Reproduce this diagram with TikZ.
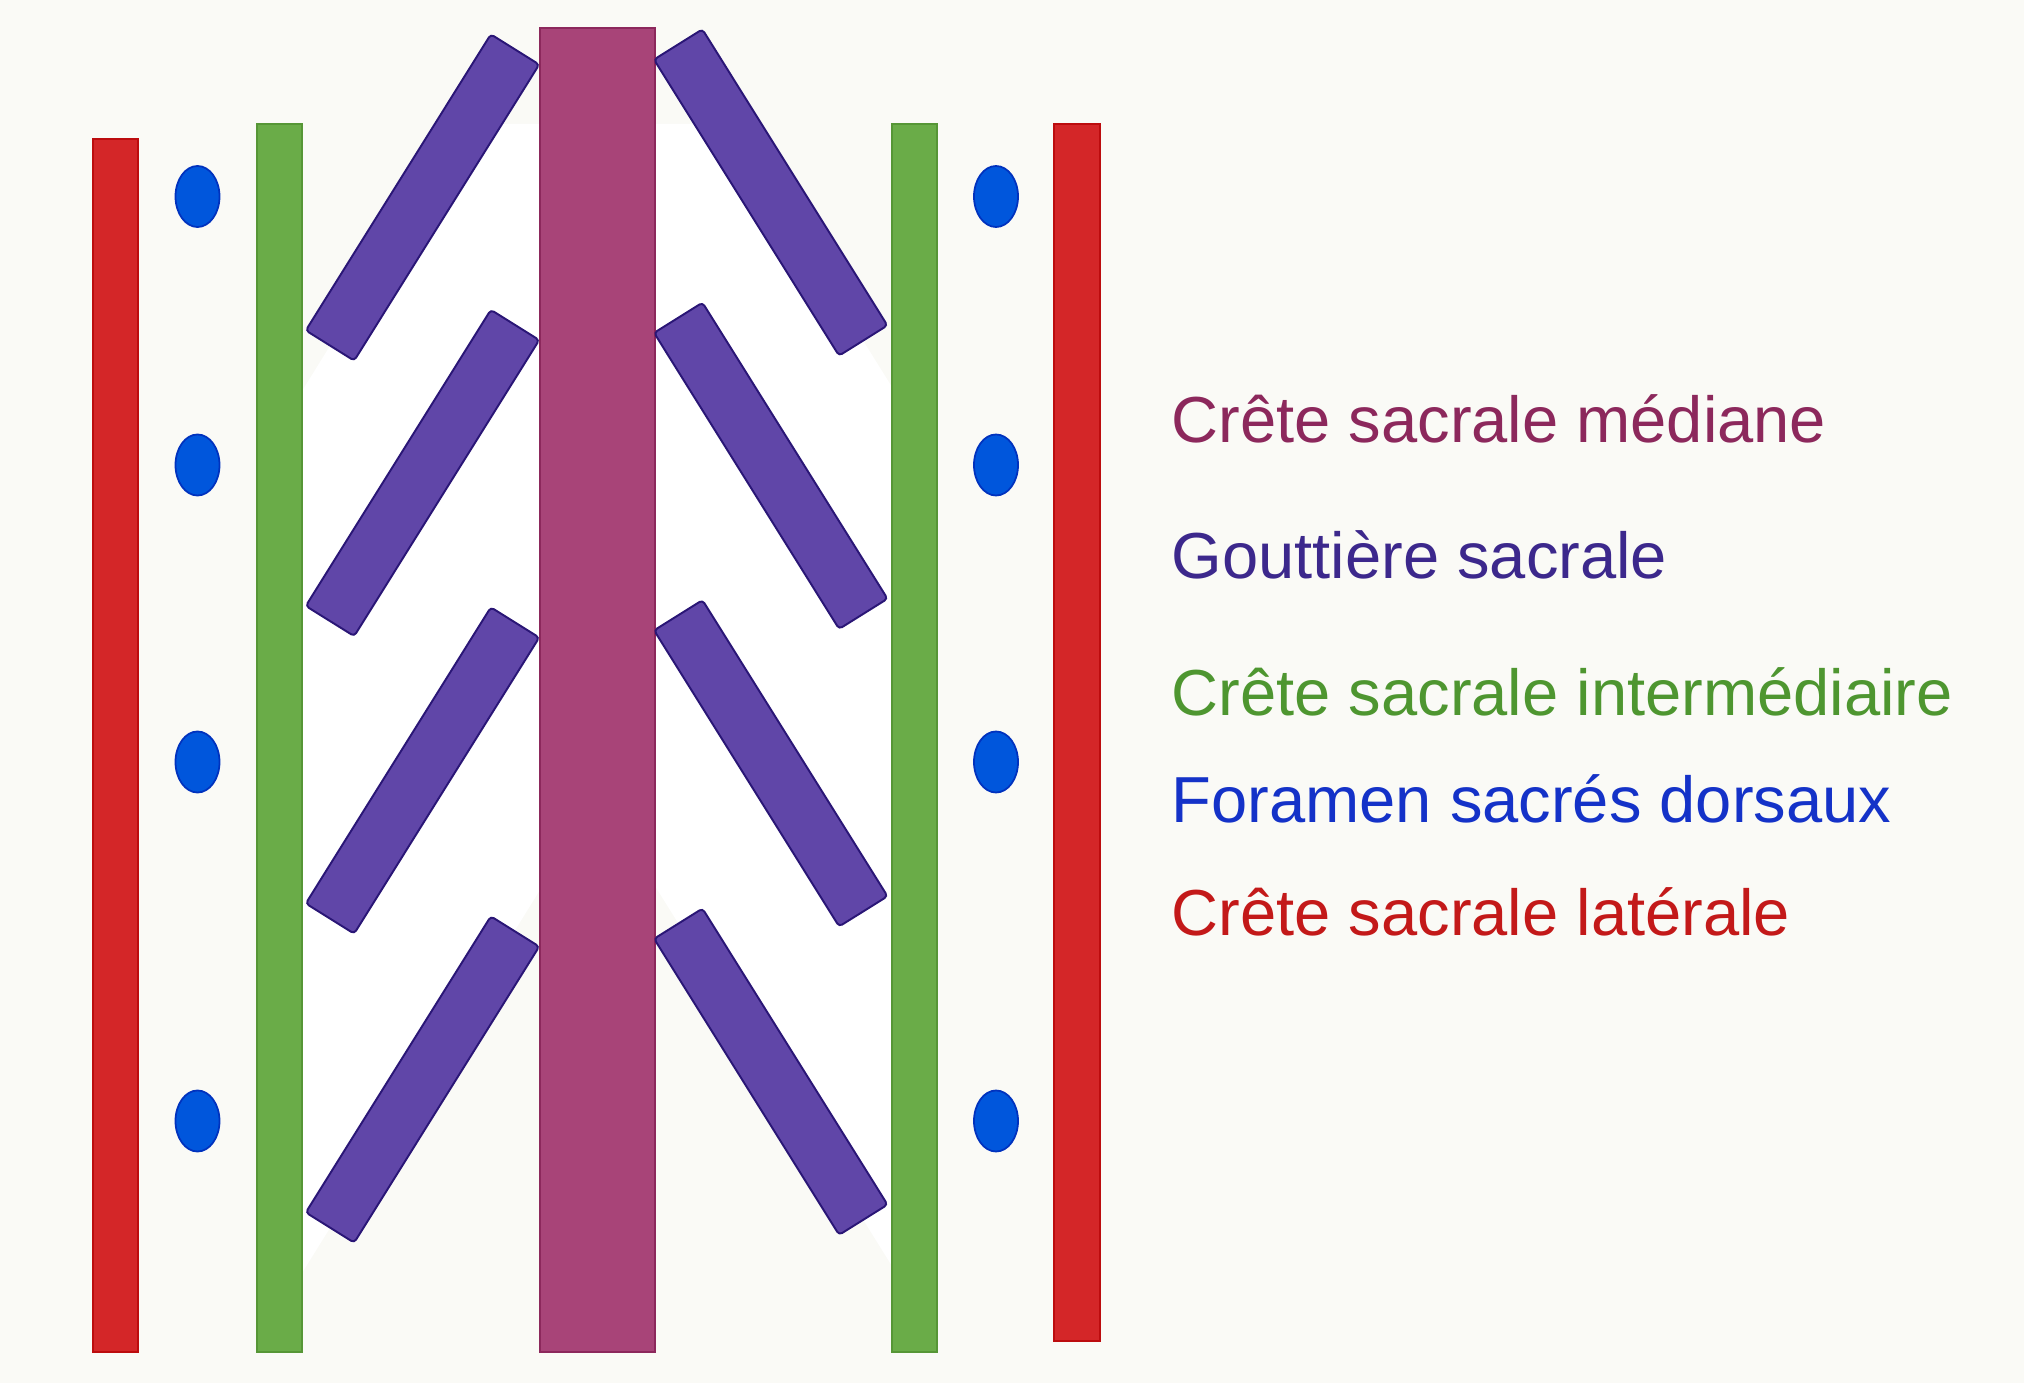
\documentclass[tikz,border=0pt]{standalone}
\usepackage{fontspec}
\setmainfont{Liberation Sans}
\usetikzlibrary{positioning,shapes.geometric}

\definecolor{fond}{RGB}{250,250,246}
\definecolor{latfill}{RGB}{212,38,40}
\definecolor{latline}{RGB}{188,12,14}
\definecolor{interfill}{RGB}{106,172,72}
\definecolor{interline}{RGB}{86,150,54}
\definecolor{medfill}{RGB}{168,68,120}
\definecolor{medline}{RGB}{140,40,92}
\definecolor{goutfill}{RGB}{96,70,168}
\definecolor{goutline}{RGB}{42,22,118}
\definecolor{forfill}{RGB}{0,86,220}
\definecolor{forline}{RGB}{0,50,190}

\tikzset{
  lat/.style={fill=latfill, draw=latline, line width=0.7pt},
  inter/.style={fill=interfill, draw=interline, line width=0.7pt},
  med/.style={fill=medfill, draw=medline, line width=0.7pt},
}

\begin{document}
\begin{tikzpicture}[x=0.01cm, y=-0.01cm,
    gout/.style={rectangle, fill=goutfill, draw=goutline, line width=0.55pt,
      minimum width=3.49cm, minimum height=0.57cm, inner sep=0pt, rounded corners=1pt},
    foramen/.style={ellipse, fill=forfill, draw=forline, line width=0.5pt,
      minimum width=0.44cm, minimum height=0.61cm, inner sep=0pt},
    legende/.style={anchor=base west, inner sep=0pt, font=\fontsize{18.5}{22}\selectfont}]
  \fill[fond] (0,0) rectangle (2024,1383);
  \useasboundingbox (0,0) rectangle (2024,1383);
  % zone blanche
  \fill[white] (302,391) -- (468,124) -- (540,124) -- (540,890) -- (302,1273) -- cycle;
  \fill[white] (892,387) -- (728,124) -- (655,124) -- (655,886) -- (892,1266) -- cycle;
  % cretes
  \draw[lat] (93,139) rectangle (138,1352);
  \draw[lat] (1054,124) rectangle (1100,1341);
  \draw[inter] (257,124) rectangle (302,1352);
  \draw[inter] (892,124) rectangle (937,1352);
  \draw[med] (540,28) rectangle (655,1352);
  % gouttieres
  \node[gout, rotate=58] (gl1) at (422.5,197.5) {};
  \node[gout, rotate=58] (gl2) at (422.5,473) {};
  \node[gout, rotate=58] (gl3) at (422.5,770.5) {};
  \node[gout, rotate=58] (gl4) at (422.5,1079.5) {};
  \node[gout, rotate=-58] (gr1) at (770.7,192.5) {};
  \node[gout, rotate=-58] (gr2) at (770.8,465.8) {};
  \node[gout, rotate=-58] (gr3) at (770.8,763.3) {};
  \node[gout, rotate=-58] (gr4) at (770.8,1071.7) {};
  % foramens
  \node[foramen] (fl1) at (197.5,196.5) {};
  \node[foramen] (fl2) at (197.5,465) {};
  \node[foramen] (fl3) at (197.5,762) {};
  \node[foramen] (fl4) at (197.5,1121) {};
  \node[foramen] (fr1) at (996,196.5) {};
  \node[foramen] (fr2) at (996,465) {};
  \node[foramen] (fr3) at (996,762) {};
  \node[foramen] (fr4) at (996,1121) {};
  % legende
  \node[legende, text=medline] (lmed) at (1171,443) {Crête sacrale médiane};
  \node[legende, text={rgb,255:red,60;green,40;blue,140}] (lgout)
    [below=1.35cm of lmed.base west, anchor=base west] {Gouttière sacrale};
  \node[legende, text={rgb,255:red,78;green,150;blue,48}] (linter)
    [below=1.37cm of lgout.base west, anchor=base west] {Crête sacrale intermédiaire};
  \node[legende, text={rgb,255:red,20;green,50;blue,200}] (lfor)
    [below=1.075cm of linter.base west, anchor=base west] {Foramen sacrés dorsaux};
  \node[legende, text={rgb,255:red,195;green,25;blue,25}] (llat)
    [below=1.125cm of lfor.base west, anchor=base west] {Crête sacrale latérale};
\end{tikzpicture}
\end{document}
